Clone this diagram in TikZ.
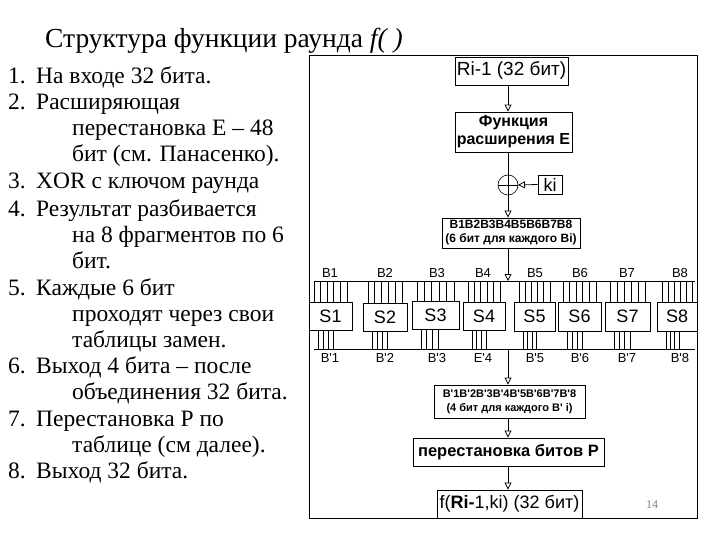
\documentclass[tikz,border=0pt]{standalone}
\usepackage{fontspec}
\setmainfont{Liberation Serif}
\newfontfamily\dsans{Liberation Sans}
\usetikzlibrary{arrows.meta}
\begin{document}
\begin{tikzpicture}[x=1pt,y=-1pt,
  blk/.style={draw,line width=0.9pt,inner sep=0pt,font=\dsans\bfseries,align=center},
  arr/.style={-{Triangle[open,length=7pt,width=7pt]},line width=0.8pt},
  lt/.style={anchor=base west,font=\fontsize{23.5}{24}\selectfont,inner sep=0pt},
  bl/.style={font=\dsans\fontsize{13}{13}\selectfont,inner sep=0pt}]
\useasboundingbox (0,0) rectangle (720,540);
\draw[line width=0.8pt] (314,281) -- (695,281);
\draw[line width=0.8pt] (314,349) -- (695,349);
\foreach \xa/\xb/\ya/\yb in {309/352/302/330,363/407/303/331,412/459/301/329,463/505/302/330,514/555/302/331,558/601/302/331,605/650/302/331,657/697/302/331}{
  \foreach \j in {0,1,2,3,4,5}
    \draw[line width=0.8pt] ({\xa+5+\j*(\xb-\xa-10)/5},281) -- ({\xa+5+\j*(\xb-\xa-10)/5},\ya);
  \foreach \j in {0,1,2,3}
    \draw[line width=0.8pt] ({\xa+9+\j*(\xb-\xa-18)/5},\yb) -- ({\xa+9+\j*(\xb-\xa-18)/5},349);
}
\node[anchor=base west,inner sep=0pt,font=\fontsize{27.5}{28}\selectfont] (title) at (45,48) {Структура функции раунда \textit{f( )}};
\foreach \t/\x/\y [count=\i] in {
 {1.}/8/84,{На входе 32 бита.}/36/84,
 {2.}/8/110,{Расширяющая}/36/110,{перестановка E – 48}/72/136,{бит (см. Панасенко).}/72/162,
 {3.}/8/189,{XOR с ключом раунда}/36/189,
 {4.}/8/216,{Результат разбивается}/36/216,{на 8 фрагментов по 6}/72/242,{бит.}/72/268,
 {5.}/8/295,{Каждые 6 бит}/36/295,{проходят через свои}/72/321,{таблицы замен.}/72/347,
 {6.}/8/373,{Выход 4 бита – после}/36/373,{объединения 32 бита.}/72/399,
 {7.}/8/426,{Перестановка P по}/36/426,{таблице (см далее).}/72/452,
 {8.}/8/478,{Выход 32 бита.}/36/478}
 \node[lt] (l\i) at (\x,\y) {\t};
\draw[line width=0.8pt] (309,55) rectangle (697,518);
\node[blk,minimum width=113pt,minimum height=28pt,font=\dsans\fontsize{19}{19}\selectfont] (r) at (511.5,71) {Ri-1 (32 бит)};
\node[blk,minimum width=117pt,minimum height=40pt,font=\dsans\bfseries\fontsize{16}{18}\selectfont] (e) at (513.5,132) {Функция\\расширения E};
\draw[line width=0.6pt] (508,185) circle (10);
\node[blk,minimum width=24pt,minimum height=19pt,font=\dsans\fontsize{18}{18}\selectfont] (ki) at (550,184.5) {ki};
\node[blk,minimum width=138pt,minimum height=30pt,font=\dsans\bfseries\fontsize{12}{14}\selectfont] (b) at (511,233) {B1B2B3B4B5B6B7B8\\(6 бит для каждого Bi)};
\draw[arr] (r.south -| 508,0) -- (e.north -| 508,0);
\draw[line width=0.8pt] (e.south -| 508,0) -- (508,175);
\draw[line width=0.6pt] (498,185) -- (518,185) (508,175) -- (508,195);
\draw[arr] (ki.west) -- (518,185);
\draw[arr] (508,195) -- (b.north -| 508,0);
\draw[arr] (b.south -| 508,0) -- (508,281);
\foreach \xa/\xb/\ya/\yb/\n/\lab/\lb/\lx [count=\k] in {
 309/352/302/330/S1/B1/B'1/330,
 363/407/303/331/S2/B2/B'2/385,
 412/459/301/329/S3/B3/B'3/437,
 463/505/302/330/S4/B4/E'4/483,
 514/555/302/331/S5/B5/B'5/535,
 558/601/302/331/S6/B6/B'6/580,
 605/650/302/331/S7/B7/B'7/627,
 657/697/302/331/S8/B8/B'8/680}{
  \draw[line width=0.9pt] (\xa,\ya) rectangle (\xb,\yb);
  \node[font=\dsans\fontsize{18}{18}\selectfont,inner sep=0pt] (s\k) at ({(\xa+\xb)/2},{(\ya+\yb)/2}) {\n};
  \node[bl] (tl\k) at (\lx,273) {\lab};
  \node[bl] (bl\k) at (\lx,358) {\lb};
}
\node[blk,minimum width=151pt,minimum height=33pt,font=\dsans\bfseries\fontsize{11}{14}\selectfont] (bp) at (509.5,401.5) {B'1B'2B'3B'4B'5B'6B'7B'8\\(4 бит для каждого B' i)};
\node[blk,minimum width=191pt,minimum height=28pt,font=\dsans\bfseries\fontsize{16.5}{16}\selectfont] (p) at (508.5,452) {перестановка битов P};
\node[blk,minimum width=145pt,minimum height=28pt,font=\dsans\fontsize{18}{18}\selectfont] (f) at (509.5,504) {f(\textbf{Ri-}1,ki) (32 бит)};
\draw[arr] (508,349) -- (bp.north -| 508,0);
\draw[arr] (bp.south -| 508,0) -- (p.north -| 508,0);
\draw[arr] (p.south -| 508,0) -- (f.north -| 508,0);
\node[font=\fontsize{12}{12}\selectfont,text=gray,inner sep=0pt] (pg) at (652,505) {14};
\end{tikzpicture}
\end{document}
